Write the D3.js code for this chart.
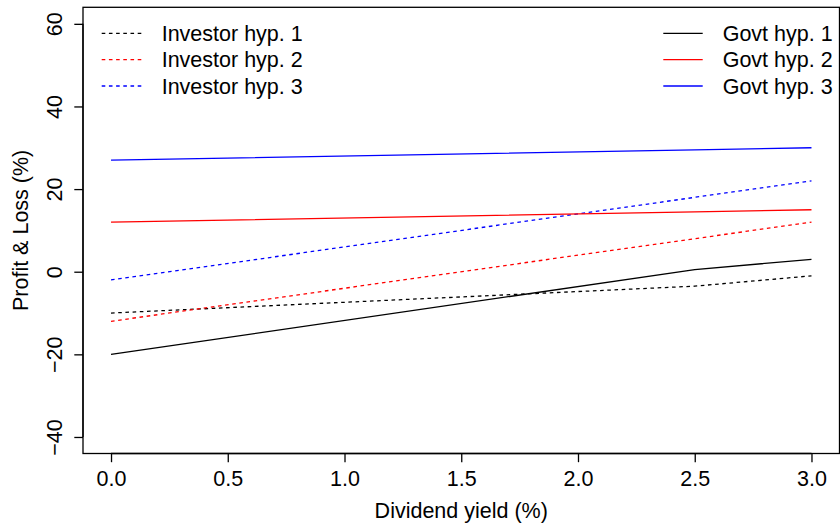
<!DOCTYPE html>
<html>
<head>
<meta charset="utf-8">
<script src="https://cdn.jsdelivr.net/npm/d3@7"></script>
<style>
  html, body { margin: 0; padding: 0; background: #fff; }
  svg { display: block; }
  text { font-family: "Liberation Sans", Arial, Helvetica, sans-serif; fill: #000; }
</style>
</head>
<body>
<svg id="chart" width="840" height="526"></svg>
<script>
// ---- data ----
const dividendYield = [0, 2.5, 3];
const investorHyp1 = [-10, -3.5, -1];
const investorHyp2 = [-12, 8, 12];
const investorHyp3 = [-2, 18, 22];
const govtHyp1 = [-20, 0.5, 3];
const govtHyp2 = [12, 14.5, 15];
const govtHyp3 = [27, 29.5, 30];
const xTicks = [0, 0.5, 1, 1.5, 2, 2.5, 3];
const yTicks = [-40, -20, 0, 20, 40, 60];
const investorLabels = ["Investor hyp. 1", "Investor hyp. 2", "Investor hyp. 3"];
const govtLabels = ["Govt hyp. 1", "Govt hyp. 2", "Govt hyp. 3"];
const seriesColors = ["#000000", "#FF0000", "#0000FF"];

const series = [
  { name: investorLabels[0], values: investorHyp1, color: seriesColors[0], dashed: true },
  { name: investorLabels[1], values: investorHyp2, color: seriesColors[1], dashed: true },
  { name: investorLabels[2], values: investorHyp3, color: seriesColors[2], dashed: true },
  { name: govtLabels[0], values: govtHyp1, color: seriesColors[0], dashed: false },
  { name: govtLabels[1], values: govtHyp2, color: seriesColors[1], dashed: false },
  { name: govtLabels[2], values: govtHyp3, color: seriesColors[2], dashed: false }
];

// ---- layout ----
const L = 83, R = 839.5, T = 7.3, B = 453.5;
const FS = 21.5;
const LW = 1.3;
const DASH = "3.6,3.6";

const svg = d3.select("#chart");
const x = d3.scaleLinear().domain([-0.12, 3.12]).range([L, R]);
const y = d3.scaleLinear().domain([-44, 64]).range([B, T]);

// lines
const line = d3.line().x((d, i) => x(dividendYield[i])).y(d => y(d));
const g = svg.append("g");
series.forEach(s => {
  g.append("path")
    .attr("d", line(s.values))
    .attr("fill", "none")
    .attr("stroke", s.color)
    .attr("stroke-width", LW)
    .attr("stroke-dasharray", s.dashed ? DASH : null);
});

// box
svg.append("rect")
  .attr("x", L).attr("y", T).attr("width", R - L).attr("height", B - T)
  .attr("fill", "none").attr("stroke", "#000").attr("stroke-width", LW);

// x axis
const xAxis = d3.axisBottom(x).tickValues(xTicks).tickFormat(d3.format(".1f")).tickSize(8.7).tickPadding(0);
const gx = svg.append("g").attr("transform", `translate(0,${B})`).call(xAxis);
gx.select(".domain").attr("d", `M${x(0)},0H${x(3)}`).attr("stroke-width", LW);
gx.selectAll(".tick line").attr("stroke-width", LW);
gx.selectAll(".tick text")
  .attr("font-size", FS).attr("font-family", null)
  .attr("dy", null).attr("y", 486 - B).attr("fill", "#000");

// y axis
const yAxis = d3.axisLeft(y).tickValues(yTicks).tickFormat(d => d < 0 ? "\u2212" + Math.abs(d) : d).tickSize(8.7).tickPadding(0);
const gy = svg.append("g").attr("transform", `translate(${L},0)`).call(yAxis);
gy.select(".domain").attr("d", `M0,${y(-40)}V${y(60)}`).attr("stroke-width", LW);
gy.selectAll(".tick line").attr("stroke-width", LW);
gy.selectAll(".tick text")
  .attr("font-size", FS).attr("font-family", null)
  .attr("x", null).attr("dy", null)
  .attr("text-anchor", "middle")
  .attr("transform", `translate(${62 - L},0) rotate(-90)`)
  .attr("fill", "#000");

// axis titles
svg.append("text")
  .attr("x", (x(0) + x(3)) / 2 + 0).attr("y", 518)
  .attr("text-anchor", "middle").attr("font-size", FS)
  .text("Dividend yield (%)");
svg.append("text")
  .attr("transform", `translate(28,${(T + B) / 2}) rotate(-90)`)
  .attr("text-anchor", "middle").attr("font-size", FS)
  .text("Profit & Loss (%)");

// legends
const rowY = [33.3, 59.6, 86];
function legend(items, x1, x2, tx, dashed) {
  items.forEach((name, i) => {
    svg.append("line")
      .attr("x1", x1).attr("x2", x2).attr("y1", rowY[i]).attr("y2", rowY[i])
      .attr("stroke", seriesColors[i]).attr("stroke-width", LW)
      .attr("stroke-dasharray", dashed ? DASH : null);
    svg.append("text")
      .attr("x", tx).attr("y", rowY[i] + 0.36 * FS)
      .attr("font-size", FS).text(name);
  });
}
legend(investorLabels, 101.7, 141.7, 161.7, true);
legend(govtLabels, 663.3, 702.7, 722.7, false);
</script>
</body>
</html>
